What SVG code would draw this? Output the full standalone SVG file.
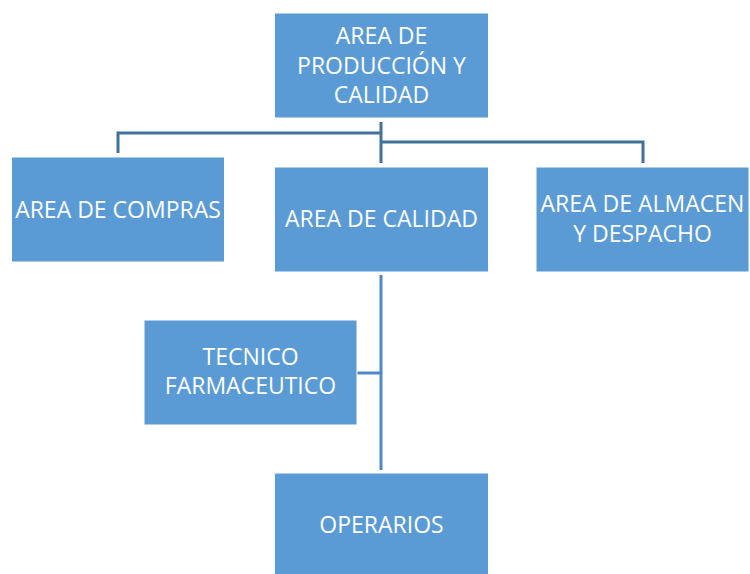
<svg xmlns="http://www.w3.org/2000/svg" width="750" height="574" viewBox="0 0 750 574">
<style>
.box{fill:#5B9BD5;stroke:#ffffff;stroke-width:1}
.t{font-family:"Open Sans","Liberation Sans",sans-serif;font-size:23px;fill:#ffffff;text-anchor:middle}
.c1{fill:none;stroke:#41719C;stroke-width:3}
.c2{fill:none;stroke:#5087C5;stroke-width:3}
</style>
<rect width="750" height="574" fill="#ffffff"/>
<g id="connectors">
<path class="c1" d="M381,122 V163 M118,153 V133 H381 M381,142 H643 V163"/>
<path class="c2" d="M381,275 V470 M357,373 H381"/>
</g>
<g id="produccion">
<rect class="box" x="274.5" y="13" width="214" height="105"/>
<text class="t" x="381.5" y="44">AREA DE</text>
<text class="t" x="381.5" y="74">PRODUCCIÓN Y</text>
<text class="t" x="381.5" y="103">CALIDAD</text>
</g>
<g id="compras">
<rect class="box" x="11.5" y="157" width="213" height="105"/>
<text class="t" x="118" y="218">AREA DE COMPRAS</text>
</g>
<g id="calidad">
<rect class="box" x="274.5" y="167" width="214" height="105"/>
<text class="t" x="381.5" y="227">AREA DE CALIDAD</text>
</g>
<g id="almacen">
<rect class="box" x="536" y="167" width="213" height="105"/>
<text class="t" x="642.5" y="212">AREA DE ALMACEN</text>
<text class="t" x="642.5" y="242">Y DESPACHO</text>
</g>
<g id="tecnico">
<rect class="box" x="144" y="320" width="213" height="105"/>
<text class="t" x="250.5" y="365">TECNICO</text>
<text class="t" x="250.5" y="394">FARMACEUTICO</text>
</g>
<g id="operarios">
<rect class="box" x="274.5" y="473" width="214" height="105"/>
<text class="t" x="381.5" y="533">OPERARIOS</text>
</g>
</svg>
